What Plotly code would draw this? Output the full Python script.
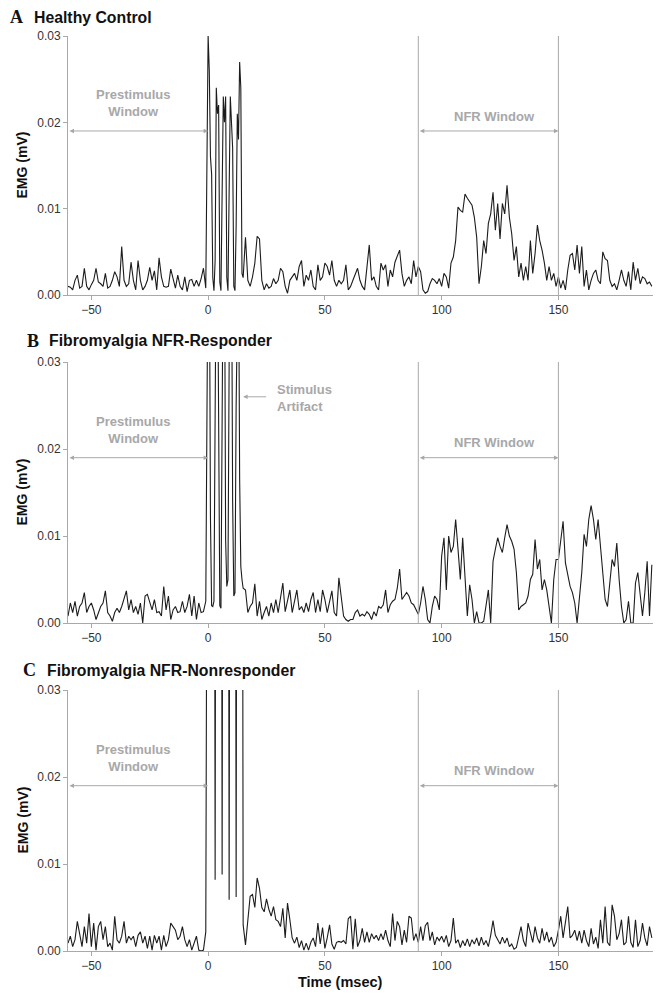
import numpy as np
import plotly.graph_objects as go

# time bases (ms)
t_pre = np.arange(-60, 0)            # -60 .. -1, 1 ms
t_burst = np.arange(0, 15.5, 0.5)    # 0 .. 15, 0.5 ms (stimulus artifact)
t_post = np.arange(16, 191)          # 16 .. 190, 1 ms

# EMG values in units of 0.001 mV
A_pre = [1.0, 0.9, 0.6, 1.7, 2.3, 0.8, 1.0, 3.1, 1.0, 0.6,
         1.2, 1.7, 3.1, 1.5, 1.3, 1.0, 2.5, 0.8, 1.0, 1.7,
         2.7, 2.1, 1.0, 5.6, 1.7, 1.0, 1.3, 3.8, 1.7, 0.6,
         4.0, 1.7, 0.6, 1.0, 1.7, 3.2, 1.7, 2.8, 0.6, 4.3,
         2.1, 1.0, 0.9, 1.0, 3.0, 1.7, 0.8, 2.3, 1.0, 0.6,
         2.1, 0.4, 1.7, 1.8, 1.0, 1.7, 1.0, 1.9, 3.1, 0.8]
A_burst = [30, 26, 16, 14, 2, 0.5, 4, 24, 21, 22, 1.5, 0.5, 10, 23, 20, 23,
           2, 0.5, 12, 23, 20, 17, 1, 0.5, 8, 21, 18, 27, 24, 2.5, 2.0]
A_post = [6.7, 1.7, 1.0, 2.1, 3.7, 6.8, 6.5, 1.7, 0.6, 1.3,
          0.8, 1.0, 1.9, 1.3, 1.7, 3.1, 2.7, 1.0, 0.2, 1.7,
          2.1, 2.5, 1.7, 3.3, 4.0, 1.0, 2.3, 1.7, 2.9, 1.0,
          0.6, 3.5, 1.7, 2.1, 3.7, 3.3, 2.3, 4.0, 1.7, 1.0,
          1.7, 1.3, 1.7, 3.5, 0.6, 1.0, 1.7, 2.3, 3.1,
          1.7, 1.0, 0.6, 2.9, 5.8, 1.7, 2.1, 1.0, 0.6, 3.7,
          2.9, 3.5, 1.0, 2.9, 2.1, 3.8, 4.6, 5.2, 2.5, 1.0,
          1.7, 2.1, 1.3, 4.0, 2.1, 3.3, 2.7, 0.6, 0.2, 0.4,
          1.3, 1.9, 1.7, 1.3, 1.9, 1.0, 2.5, 2.1, 0.8, 3.7,
          4.4, 6.3, 10.2, 9.8, 9.6, 11.7, 11.2, 10.8, 10.4, 9.0,
          6.7, 1.3, 3.3, 6.3, 4.8, 8.3, 9.4, 11.9, 7.5, 10.6,
          6.5, 10.6, 9.4, 12.7, 9.0, 7.1, 4.0, 5.6, 2.1, 3.7,
          1.7, 3.3, 1.7, 6.3, 2.5, 4.8, 8.1, 6.3, 5.2, 3.7,
          1.7, 3.3, 1.7, 2.5, 1.0, 2.1, 0.8, 1.7, 0.6, 2.9,
          4.6, 4.8, 2.9, 5.8, 2.5, 5.6, 1.0, 2.9, 0.6, 1.7,
          2.5, 2.9, 1.7, 1.3, 5.0, 4.2, 4.0, 1.7, 1.0, 1.3,
          0.6, 1.7, 2.9, 1.7, 1.0, 2.7, 0.6, 3.8, 1.7, 3.1,
          1.3, 2.1, 1.9, 1.3, 1.5, 1.0]

B_pre = [0.8, 2.3, 1.2, 2.5, 0.8, 1.9, 2.3, 3.5, 1.2, 1.9,
         2.3, 1.5, 0.4, 1.2, 1.9, 2.3, 3.7, 1.2, 0.8, 0.2,
         1.2, 1.7, 1.2, 1.9, 2.7, 3.7, 1.5, 2.7, 1.2, 1.9,
         1.0, 2.3, 0.0, 3.1, 3.3, 2.3, 1.5, 2.7, 1.2, 1.3,
         0.8, 4.2, 1.5, 3.1, 0.4, 1.5, 1.9, 1.2, 1.3, 2.5,
         1.2, 1.9, 3.3, 0.8, 3.1, 0.4, 2.3, 1.2, 1.3, 2.5]
B_burst = [45, 45, 12, 2.0, 1.9, 2.5, 20, 45, 45, 19, 2.0, 1.7, 25, 45, 45, 9.5,
           4.2, 5, 30, 45, 45, 14, 3.1, 3.5, 25, 45, 45, 16.5, 6.5, 5.0, 4.0]
B_post = [3.8, 1.2, 1.9, 2.3, 4.5, 0.8, 2.5, 0.4, 1.2, 1.9,
          0.8, 2.3, 1.2, 2.7, 1.2, 3.1, 4.6, 1.3, 2.7, 3.8,
          1.2, 2.7, 3.8, 1.5, 1.9, 1.2, 2.3, 1.3, 2.7, 3.5,
          1.2, 2.7, 1.3, 3.8, 2.7, 1.2, 2.3, 3.7, 1.2, 0.8,
          5.2, 3.1, 0.8, 0.4, 0.2, 0.4, 0.4, 1.2, 1.5,
          0.8, 1.0, 0.8, 1.3, 1.0, 0.4, 1.3, 0.8, 1.9, 1.7,
          2.1, 3.8, 1.2, 2.1, 2.5, 2.7, 4.0, 6.2, 2.7, 3.1,
          3.5, 3.1, 2.3, 2.1, 1.5, 1.0, 2.3, 4.2, 2.7, 0.4,
          0.0, 1.9, 3.1, 2.7, 1.5, 7.7, 9.8, 3.8, 10.0, 8.1,
          8.8, 11.9, 8.5, 5.0, 9.8, 5.8, 0.8, 4.4, 2.7, 0.0,
          1.3, 0.0, 0.0, 0.2, 1.9, 3.8, 0.0, 7.1, 8.5, 9.8,
          8.8, 8.1, 9.8, 11.3, 10.0, 9.4, 8.5, 5.8, 1.5, 1.9,
          2.1, 2.3, 3.1, 5.0, 5.6, 9.6, 6.2, 7.3, 3.8, 5.0,
          3.8, 1.9, 0.0, 5.0, 7.3, 7.3, 9.2, 11.7, 6.9, 5.6,
          4.2, 3.5, 2.3, 0.0, 2.9, 5.8, 10.2, 8.8, 11.9, 13.5,
          11.9, 9.6, 11.9, 8.8, 5.8, 2.7, 1.9, 5.0, 7.3, 6.5,
          9.2, 5.0, 1.9, 0.0, 0.4, 2.5, 0.0, 0.0, 4.6, 5.8,
          3.5, 0.8, 3.5, 7.1, 0.8, 6.7]

C_pre = [0.9, 1.7, 0.5, 1.3, 3.4, 1.7, 0.5, 2.8, 0.9, 4.3,
         0.5, 3.2, 0.1, 2.8, 3.4, 1.3, 2.8, 0.5, 0.9, 0.1,
         4.0, 1.3, 0.9, 1.7, 3.4, 0.9, 1.7, 1.3, 1.7, 0.5,
         1.8, 2.2, 0.9, 1.7, 0.3, 1.7, 0.1, 1.8, 0.9, 1.7,
         0.1, 1.8, 0.5, 1.3, 3.2, 2.8, 2.4, 1.3, 1.7, 2.8,
         1.3, 0.5, 1.3, 0.1, 0.9, 1.7, 0.1, 0.0, 0.1, 2.2]
C_burst = [100, 100, 100, 100, 100, 100, 8.2, 100, 100, 100, 100, 100, 8.8, 100, 100, 100,
           100, 100, 5.9, 100, 100, 100, 100, 100, 6.2, 100, 100, 100, 100, 100, 3.0]
C_post = [0.7, 3.5, 6.3, 6.5, 5.0, 8.4, 7.2, 5.0, 4.5, 6.0,
          4.8, 4.0, 5.1, 3.6, 3.4, 2.8, 4.9, 1.5, 5.5, 3.6,
          1.5, 0.9, 1.6, 0.4, 1.2, 0.1, 0.9, 0.1, 1.0, 1.5,
          0.5, 3.2, 0.8, 2.7, 0.3, 1.5, 3.0, 0.8, 0.2, 1.0,
          1.1, 1.0, 1.2, 0.8, 3.7, 4.0, 0.2, 3.7, 0.5,
          1.2, 2.6, 1.0, 2.2, 1.0, 2.0, 1.4, 1.8, 1.2, 2.0,
          1.3, 2.4, 1.2, 0.5, 4.3, 1.2, 3.4, 2.8, 0.7, 2.4,
          1.0, 4.0, 3.8, 1.2, 2.0, 1.0, 2.8, 1.2, 2.9, 3.3,
          1.2, 2.2, 0.7, 1.6, 1.2, 1.7, 1.0, 1.8, 0.5, 1.2,
          3.8, 0.9, 1.3, 0.4, 1.2, 0.6, 1.4, 0.5, 1.3, 0.8,
          1.5, 0.6, 1.6, 0.7, 1.2, 0.5, 1.8, 3.5, 1.8, 1.3,
          0.8, 1.6, 0.9, 1.5, 0.5, 0.8, 0.2, 0.4, 1.5, 2.8,
          1.2, 0.5, 3.2, 2.0, 1.0, 2.8, 1.5, 0.9, 2.6, 1.2,
          2.2, 1.0, 1.6, 0.5, 1.0, 2.4, 4.0, 1.5, 3.4, 5.1,
          1.5, 1.8, 2.4, 1.2, 2.3, 0.9, 2.4, 1.2, 0.5, 2.6,
          0.8, 1.6, 0.3, 3.6, 0.9, 5.1, 1.0, 0.6, 5.3, 4.0,
          1.3, 2.0, 3.6, 0.7, 1.0, 4.0, 1.0, 0.4, 3.6, 0.5,
          1.2, 3.2, 1.5, 0.6, 2.8, 1.5]

letters = ["A", "B", "C"]
titles = ["Healthy Control", "Fibromyalgia NFR-Responder", "Fibromyalgia NFR-Nonresponder"]
x_ticks = [-50, 0, 50, 100, 150]
y_ticks = [0.0, 0.01, 0.02, 0.03]
window_lines = [90, 150]
SCALE = 0.001  # stored values are in 0.001 mV

series = [(A_pre, A_burst, A_post), (B_pre, B_burst, B_post), (C_pre, C_burst, C_post)]
for pre, burst, post in series:
    assert len(pre) == len(t_pre) and len(burst) == len(t_burst) and len(post) == len(t_post), \
        (len(pre), len(burst), len(post))

W, H = 664, 1000
x_dom = [68 / W, 653 / W]
y_doms = [(1 - 295 / H, 1 - 36 / H), (1 - 623 / H, 1 - 362 / H), (1 - 951 / H, 1 - 690 / H)]
title_y = [17, 341, 670]
letter_x = [8, 25, 21]
title_x = [32, 47, 45]

AX_GRAY = "#a9a9a9"
ANN_GRAY = "#a8a8a8"
SANS = "Liberation Sans, Arial, sans-serif"
SERIF = "Liberation Serif, Times New Roman, serif"

fig = go.Figure()
annotations = []
shapes = []
layout = {}

for i, (pre, burst, post) in enumerate(series):
    n = i + 1
    xa = "x" if n == 1 else f"x{n}"
    ya = "y" if n == 1 else f"y{n}"
    t = np.concatenate([t_pre, t_burst, t_post])
    v = np.concatenate([pre, burst, post]) * SCALE
    fig.add_trace(go.Scatter(x=t, y=v, mode="lines", xaxis=xa, yaxis=ya,
                             line=dict(color="#1c1c1c", width=1.1), showlegend=False,
                             hoverinfo="skip"))
    axis_common = dict(showline=True, linecolor=AX_GRAY, linewidth=1, ticks="outside",
                       ticklen=4, tickcolor=AX_GRAY, showgrid=False, zeroline=False,
                       automargin=False,
                       tickfont=dict(family=SANS, size=12, color="#333333"))
    layout["xaxis" if n == 1 else f"xaxis{n}"] = dict(
        domain=x_dom, range=[-60, 190.5], anchor=ya, tickvals=x_ticks, **axis_common)
    layout["yaxis" if n == 1 else f"yaxis{n}"] = dict(
        domain=list(y_doms[i]), range=[0, 0.03], anchor=xa, tickvals=y_ticks,
        tickformat=".2f", **axis_common)

    for wl in window_lines:
        shapes.append(dict(type="line", xref=xa, yref=ya, x0=wl, x1=wl, y0=0, y1=0.03,
                           line=dict(color=AX_GRAY, width=1)))

    # panel headings
    annotations.append(dict(xref="paper", yref="paper", x=letter_x[i] / W, y=1 - title_y[i] / H,
                            xanchor="left", yanchor="middle", showarrow=False,
                            text=f"<b>{letters[i]}</b>",
                            font=dict(family=SERIF, size=18, color="#111111")))
    annotations.append(dict(xref="paper", yref="paper", x=title_x[i] / W, y=1 - title_y[i] / H,
                            xanchor="left", yanchor="middle", showarrow=False,
                            text=f"<b>{titles[i]}</b>",
                            font=dict(family=SANS, size=15.8, color="#111111")))
    # y title
    annotations.append(dict(xref="paper", yref="paper", x=22 / W,
                            y=(y_doms[i][0] + y_doms[i][1]) / 2, textangle=-90,
                            xanchor="center", yanchor="middle", showarrow=False,
                            text="<b>EMG (mV)</b>",
                            font=dict(family=SANS, size=14, color="#111111")))
    # window arrows
    for (x0, x1) in [(-60, 0), (90, 150)]:
        annotations.append(dict(xref=xa, yref=ya, axref=xa, ayref=ya,
                                x=x1, y=0.019, ax=x0, ay=0.019, text="",
                                showarrow=True, arrowside="end+start",
                                arrowhead=2, startarrowhead=2, arrowsize=0.9,
                                startarrowsize=0.9, arrowwidth=1, arrowcolor=ANN_GRAY))
    annotations.append(dict(xref=xa, yref=ya, x=-32, y=0.0222, showarrow=False,
                            text="<b>Prestimulus<br>Window</b>",
                            font=dict(family=SANS, size=13, color=ANN_GRAY)))
    annotations.append(dict(xref=xa, yref=ya, x=122.8, y=0.0207, showarrow=False,
                            text="<b>NFR Window</b>",
                            font=dict(family=SANS, size=13, color=ANN_GRAY)))
    if n == 2:
        annotations.append(dict(xref=xa, yref=ya, axref=xa, ayref=ya,
                                x=15, y=0.026, ax=25.5, ay=0.026, text="",
                                showarrow=True, arrowhead=2, arrowsize=0.9,
                                arrowwidth=1, arrowcolor=ANN_GRAY))
        annotations.append(dict(xref=xa, yref=ya, x=28.5, y=0.0259, xanchor="left",
                                showarrow=False, align="left",
                                text="<b>Stimulus<br>Artifact</b>",
                                font=dict(family=SANS, size=13, color=ANN_GRAY)))

annotations.append(dict(xref="paper", yref="paper", x=341 / W, y=1 - 982 / H,
                        xanchor="center", yanchor="middle", showarrow=False,
                        text="<b>Time (msec)</b>",
                        font=dict(family=SANS, size=14.5, color="#111111")))

fig.update_layout(width=W, height=H, margin=dict(l=0, r=0, t=0, b=0, autoexpand=False),
                  paper_bgcolor="white", plot_bgcolor="white",
                  annotations=annotations, shapes=shapes, **layout)

fig.write_html("out.html", config={"displayModeBar": False, "staticPlot": True},
               post_script="document.body.style.margin='0px';document.body.style.overflow='hidden';")
